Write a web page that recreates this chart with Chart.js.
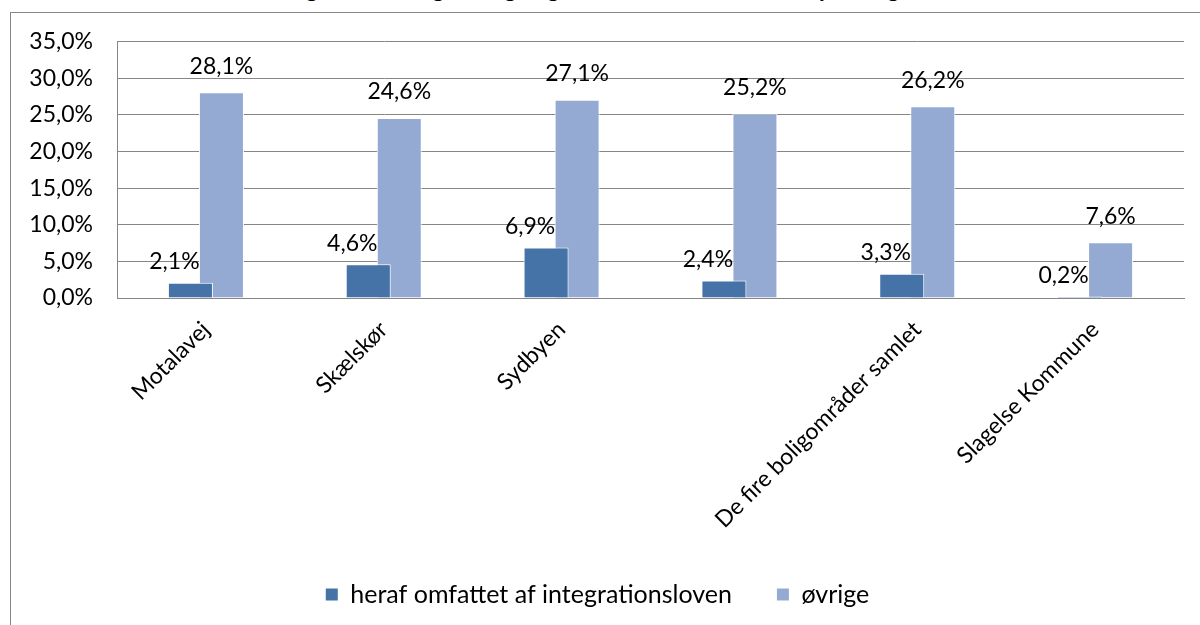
<!DOCTYPE html>
<html>
<head>
<meta charset="utf-8">
<script src="https://cdn.jsdelivr.net/npm/chart.js@4.4.1/dist/chart.umd.min.js"></script>
<style>
  html, body { margin: 0; padding: 0; background: #fff; overflow: hidden; }
  #title {
    position: absolute; left: 0; top: -26px; width: 1200px; text-align: center; line-height: 28px;
    font: bold 23px Lato, "Liberation Sans", sans-serif; color: #000;
  }
  #frame {
    position: absolute; left: 10px; top: 12px; width: 1200px; height: 620px;
    border-left: 1px solid #878787; border-top: 1px solid #878787; background: #fff;
  }
  #wrap { position: absolute; left: 0; top: -9px; width: 1190px; height: 621px; }
</style>
</head>
<body>
<div id="title">Andel unge 18-29-årige, ledige og uden uddannelse fordelt på boligområder</div>
<div id="frame"><div id="wrap"><canvas id="myChart"></canvas></div></div>
<script>
const categories = ['Motalavej', 'Skælskør', 'Sydbyen', 'De fire boligområder samlet', 'Slagelse Kommune'];
const integration = [2.1, 4.6, 6.9, 2.4, 3.3, 0.2];
const others = [28.1, 24.6, 27.1, 25.2, 26.2, 7.6];
const seriesNames = ['heraf omfattet af integrationsloven', 'øvrige'];

// the reference has an unlabelled group between Sydbyen and "De fire boligområder samlet"
const labels = [categories[0], categories[1], categories[2], '', categories[3], categories[4]];

const fontFamily = "Lato, 'Liberation Sans', sans-serif";
const fmt = v => v.toFixed(1).replace('.', ',') + '%';

// value labels above the bars
const valueLabels = {
    id: 'valueLabels',
    afterDatasetsDraw(chart) {
        const c = chart.ctx;
        c.save();
        c.font = '23px ' + fontFamily;
        c.fillStyle = '#000';
        c.textAlign = 'center';
        c.textBaseline = 'middle';
        chart.data.datasets.forEach((ds, i) => {
            chart.getDatasetMeta(i).data.forEach((bar, j) => {
                const v = ds.data[j];
                if (v == null) return;
                if (i === 0) {
                    c.fillText(fmt(v), bar.x - 16, bar.y - 21);
                } else {
                    c.fillText(fmt(v), bar.x, bar.y - 26);
                }
            });
        });
        c.restore();
    }
};

const ctx = document.getElementById('myChart');

new Chart(ctx, {
    type: 'bar',
    data: {
        labels: labels,
        datasets: [{
            label: seriesNames[0],
            data: integration,
            backgroundColor: '#4572A7',
            borderColor: '#ffffff',
            borderWidth: 1,
            categoryPercentage: 0.349,
            barPercentage: 1.45
        }, {
            label: seriesNames[1],
            data: others,
            backgroundColor: '#95AAD2',
            borderColor: '#ffffff',
            borderWidth: 1,
            categoryPercentage: 0.349,
            barPercentage: 1.45
        }]
    },
    options: {
        responsive: true,
        maintainAspectRatio: false,
        animation: false,
        layout: {
            padding: { left: 0, right: 17, top: 14, bottom: 8 }
        },
        scales: {
            x: {
                grid: {
                    display: false,
                    drawTicks: false
                },
                border: { color: '#868686', width: 1 },
                ticks: {
                    color: '#000',
                    font: { size: 23, family: fontFamily },
                    maxRotation: 45,
                    minRotation: 45,
                    padding: 18,
                    autoSkip: false
                },
                afterFit(scale) {
                    scale.height = 239;
                }
            },
            y: {
                min: 0,
                max: 35,
                grid: {
                    color: '#868686',
                    drawTicks: false
                },
                border: { color: '#868686', width: 1 },
                ticks: {
                    stepSize: 5,
                    color: '#000',
                    font: { size: 23, family: fontFamily },
                    padding: 24,
                    callback: v => fmt(v)
                },
                afterFit(scale) {
                    scale.width = 106;
                }
            }
        },
        plugins: {
            legend: {
                position: 'bottom',
                labels: {
                    color: '#000',
                    font: { size: 25, family: fontFamily },
                    boxWidth: 12,
                    boxHeight: 12,
                    padding: 45,
                    generateLabels(chart) {
                        return chart.data.datasets.map((ds, i) => ({
                            text: ds.label,
                            fillStyle: ds.backgroundColor,
                            strokeStyle: ds.backgroundColor,
                            lineWidth: 0,
                            datasetIndex: i
                        }));
                    }
                }
            },
            tooltip: { enabled: false }
        }
    },
    plugins: [valueLabels]
});
</script>
</body>
</html>
